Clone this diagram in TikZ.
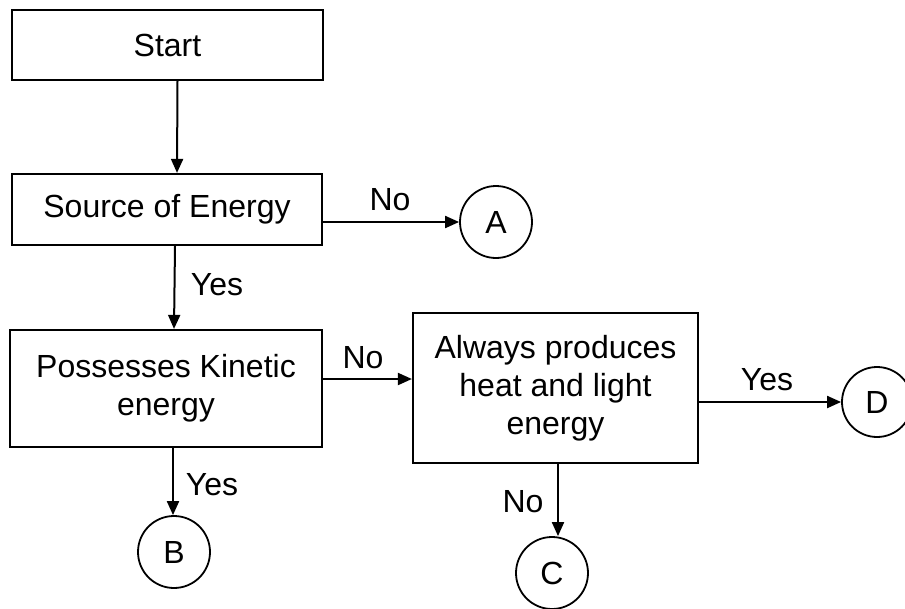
\documentclass[tikz,border=0pt]{standalone}
\usepackage{fontspec}
\setmainfont{Liberation Sans}
\usetikzlibrary{arrows.meta}
\begin{document}
\begin{tikzpicture}[x=1pt,y=-1pt,
  every node/.style={font=\fontsize{32}{38}\selectfont},
  box/.style={draw, line width=2.2pt, inner sep=0pt, align=center},
  conn/.style={draw, line width=1.8pt, circle, minimum size=72pt, inner sep=0pt},
  arr/.style={line width=2pt, -{Triangle[length=14pt,width=12pt]}},
  lbl/.style={inner sep=0pt}]
\useasboundingbox (0,0) rectangle (905,608);
\fill[white] (0,0) rectangle (905,608);
\node[box, minimum width=311pt, minimum height=70pt] (start) at (167.5,45) {Start};
\node[box, minimum width=310pt, minimum height=71pt] (src) at (167,209.5) {Source of Energy};
\node[box, minimum width=312pt, minimum height=117pt] (pk) at (166,388.5) {Possesses Kinetic\\energy};
\node[box, minimum width=285pt, minimum height=150pt] (al) at (555.5,388) {Always produces\\heat and light\\energy};
\node[conn] (A) at (496,222) {A};
\node[conn] (B) at (174,552) {B};
\node[conn] (C) at (552,573) {C};
\node[conn, minimum size=70pt] (D) at (877,402) {D};
\draw[arr] ([xshift=10pt]start.south) -- ([xshift=10pt]src.north);
\draw[arr] (src.east |- A) -- (A);
\draw[arr] ([xshift=8pt]src.south) -- ([xshift=8pt]pk.north);
\draw[arr] ([yshift=9.5pt]pk.east) -- ([yshift=9.5pt]pk.east -| al.west);
\draw[arr] (al.east |- D) -- (D);
\draw[arr] ([xshift=7pt]pk.south) -- ([xshift=7pt]pk.south |- B.north);
\draw[arr] ([xshift=2.5pt]al.south) -- ([xshift=2.5pt]al.south |- C.north);
\node[lbl] (lA) at (390,200) {No};
\node[lbl] (lS) at (217,285) {Yes};
\node[lbl] (lP) at (363,358) {No};
\node[lbl] (lD) at (767,380) {Yes};
\node[lbl] (lC) at (523,502) {No};
\node[lbl] (lB) at (212,485) {Yes};
\end{tikzpicture}
\end{document}
